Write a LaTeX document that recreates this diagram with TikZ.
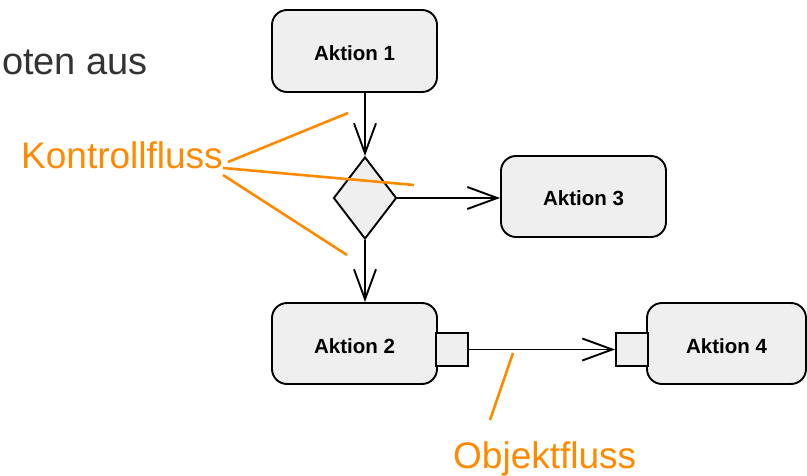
\documentclass[tikz,border=0pt]{standalone}
\usepackage{fontspec}
\setmainfont{Liberation Sans}
\usetikzlibrary{shapes.geometric,arrows.meta}
\definecolor{actfill}{HTML}{EFEFEF}
\definecolor{hint}{HTML}{FF8A00}
\definecolor{bodytext}{HTML}{333333}
\tikzset{
  action/.style={draw=black,line width=1.9pt,fill=actfill,rounded corners=15pt,
    inner sep=0pt,text height=19pt,text depth=0pt,
    font=\fontsize{20.5}{24}\selectfont\bfseries},
  pinbox/.style={draw=black,line width=1.9pt,fill=actfill,inner sep=0pt,
    minimum width=32pt,minimum height=33pt},
  decision/.style={draw=black,line width=1.9pt,fill=actfill,diamond,inner sep=0pt,
    minimum width=63pt,minimum height=82pt},
  flow/.style={draw=black,line width=1.9pt,-{Straight Barb[length=30pt,width=22pt]}},
  callout/.style={draw=hint,line width=2.6pt},
  calloutlabel/.style={text=hint,font=\fontsize{37}{40}\selectfont,inner sep=0pt}
}
\begin{document}
\begin{tikzpicture}[x=1pt,y=-1pt]
\useasboundingbox (0,0) rectangle (807,476);

% text fragment of the slide
\node[anchor=base east,inner sep=0pt,text=bodytext,font=\fontsize{38}{42}\selectfont] (slidetext) at (148,75) {oten aus};

% actions
\node[action,minimum width=165pt,minimum height=82pt] (a1) at (354.5,51) {Aktion 1};
\node[decision] (d) at (365,198) {};
\node[action,minimum width=165pt,minimum height=81pt] (a3) at (583.5,196.5) {Aktion 3};
\node[action,minimum width=165pt,minimum height=81pt] (a2) at (354.5,343.5) {Aktion 2};
\node[action,minimum width=159pt,minimum height=81pt] (a4) at (726.5,343.5) {Aktion 4};

% pins
\node[pinbox] (p1) at (452,349.5) {};
\node[pinbox] (p2) at (632,349.5) {};

% control flows
\draw[flow] (d.north |- a1.south) -- (d.north);
\draw[flow] (d.east) -- (a3.west |- d.east);
\draw[flow] (d.south) -- (d.south |- a2.north);

% object flow
\draw[flow] (p1.east) -- (p2.west);

% callout labels
\node[calloutlabel,anchor=base west] (kf) at (21,169) {Kontrollfluss};
\node[calloutlabel,anchor=base west] (of) at (453,468) {Objektfluss};

\coordinate (k1s) at (228,162);
\coordinate (k1e) at (348,113);
\coordinate (k2s) at (223,168);
\coordinate (k2e) at (414,185);
\coordinate (k3s) at (223,175);
\coordinate (k3e) at (347,255);
\draw[callout] (k1s) -- (k1e);
\draw[callout] (k2s) -- (k2e);
\draw[callout] (k3s) -- (k3e);

\coordinate (o1s) at (513,353);
\coordinate (o1e) at (490,420);
\draw[callout] (o1s) -- (o1e);
\end{tikzpicture}
\end{document}
